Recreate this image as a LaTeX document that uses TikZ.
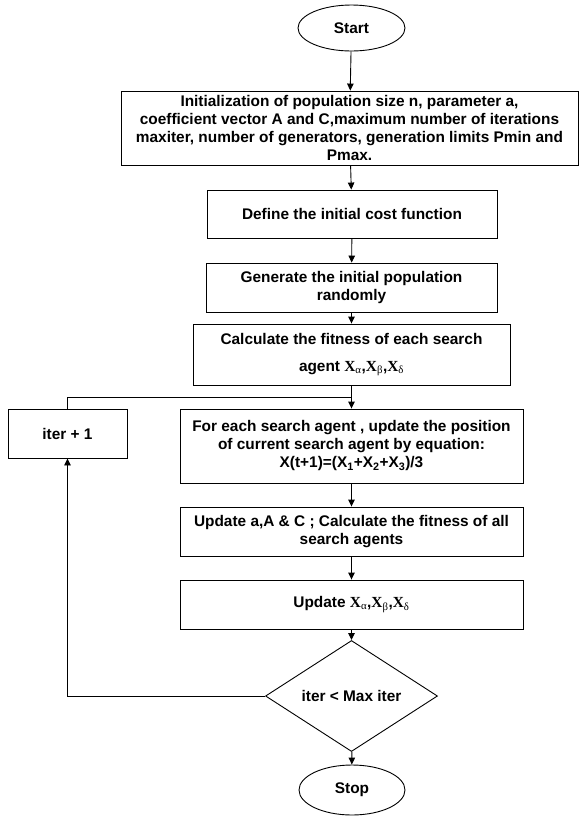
\documentclass[tikz,border=0pt]{standalone}
\usepackage{fontspec}
\setmainfont{Liberation Sans}
\newfontfamily\grkserif{Liberation Serif}
\usetikzlibrary{shapes.geometric,arrows.meta}
\newcommand{\Xg}[1]{{\grkserif\bfseries X\textsubscript{\normalfont\grkserif #1}}}
\begin{document}
\begin{tikzpicture}[x=1pt,y=-1pt,
  every node/.style={font=\fontsize{15.4}{18}\selectfont\bfseries, align=center, inner sep=2pt},
  box/.style={draw, line width=0.9pt, rectangle},
  oval/.style={draw, line width=0.9pt, ellipse, inner sep=0pt},
  dia/.style={draw, line width=0.9pt, diamond, inner sep=0pt},
  conn/.style={line width=0.9pt, -{Triangle[length=7pt,width=6.5pt]}},
  plain/.style={line width=0.9pt}]
\useasboundingbox (0,0) rectangle (579,820);
\node[oval, minimum width=107pt, minimum height=46pt] (start) at (351.5,28) {Start};
\node[box, minimum width=457pt, minimum height=74pt] (init) at (349.5,128)
  {Initialization of population size n, parameter a,\\
   coefficient vector A and C,maximum number of iterations\\
   maxiter, number of generators, generation limits Pmin and\\
   Pmax.};
\node[box, minimum width=290pt, minimum height=48pt] (def) at (352,214) {Define the initial cost function};
\node[box, minimum width=291pt, minimum height=49pt] (gen) at (351.5,287.5) {Generate the initial population\\ randomly};
\node[box, minimum width=317pt, minimum height=61pt] (calc) at (351.5,354.5)
  {Calculate the fitness of each search\\[9pt] agent \Xg{α},\Xg{β},\Xg{δ}};
\node[box, minimum width=343pt, minimum height=74pt] (each) at (351.5,446)
  {For each search agent , update the position\\
   of current search agent by equation:\\
   X(t+1)=(X\textsubscript{1}+X\textsubscript{2}+X\textsubscript{3})/3};
\node[box, minimum width=343pt, minimum height=49pt] (upa) at (351.5,531.5)
  {Update a,A \& C ; Calculate the fitness of all\\ search agents};
\node[box, minimum width=343pt, minimum height=49pt] (upx) at (351.5,604.5)
  {Update \Xg{α},\Xg{β},\Xg{δ}};
\node[dia, minimum width=172pt, minimum height=84pt] (dec) at (351.5,696) {iter < Max iter};
\node[oval, minimum width=106pt, minimum height=50pt] (stop) at (352,790) {Stop};
\node[box, minimum width=119pt, minimum height=49pt] (iter) at (67.5,433.5) {iter + 1};
\coordinate (join) at (351.5,397);
\coordinate (corner) at (67.5,696);
\draw[conn] (start) -- (init);
\draw[conn] (init) -- (def);
\draw[conn] (def) -- (gen);
\draw[conn] (gen) -- (calc);
\draw[conn] (calc) -- (each);
\draw[conn] (each) -- (upa);
\draw[conn] (upa) -- (upx);
\draw[conn] (upx) -- (dec);
\draw[conn] (dec) -- (stop);
\draw[conn] (dec.west) -- (corner) -- (iter.south);
\draw[plain] (iter.north) |- (join);
\end{tikzpicture}
\end{document}
